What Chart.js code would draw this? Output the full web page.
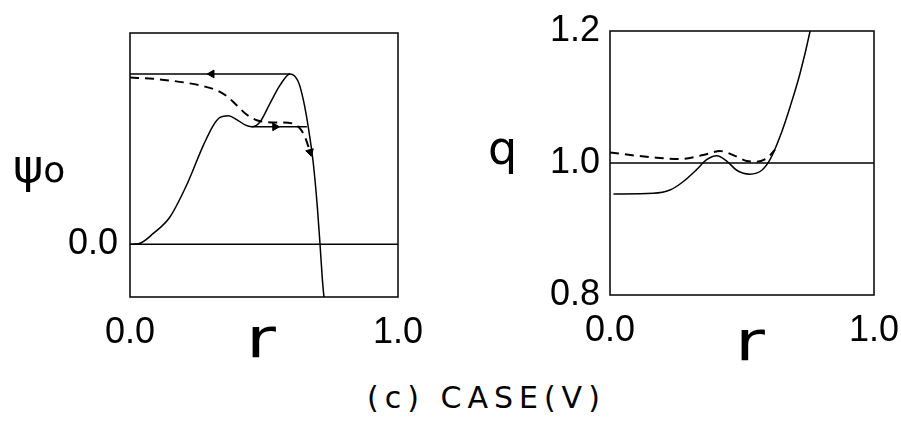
<!DOCTYPE html>
<html>
<head>
<meta charset="utf-8">
<script src="https://cdn.jsdelivr.net/npm/chart.js@4.4.1/dist/chart.umd.min.js"></script>
<style>
    html, body { margin: 0; padding: 0; background: #fff; }
    #wrap { position: relative; width: 901px; height: 421px; overflow: hidden; background: #fff; font-family: "DejaVu Sans", sans-serif; color: #000; }
    canvas { position: absolute; top: 0; }
    .lbl { position: absolute; line-height: 1; white-space: nowrap; }
</style>
</head>
<body>
<div id="wrap">
    <canvas id="psiChart" width="460" height="360" style="left:0"></canvas>
    <canvas id="qChart" width="441" height="360" style="left:460px"></canvas>

    <div class="lbl" style="left:13px; top:143px; font-size:46px;">ψ<span style="font-size:36px;">o</span></div>
    <div class="lbl" style="left:246px; top:310px; font-size:56px; transform-origin:0 0; transform:scaleX(1.3);">r</div>
    <div class="lbl" style="left:488px; top:125px; font-size:46px;">q</div>
    <div class="lbl" style="left:735px; top:313px; font-size:56px; transform-origin:0 0; transform:scaleX(1.3);">r</div>
    <div class="lbl" style="left:367px; top:383px; font-size:30px; letter-spacing:6px;">(c) CASE(V)</div>
</div>

<script>
// ---- psi_0 panel ----
const psiTicksX = [0, 1];
const psiTicksY = [0];

// solid profile
const psiCurveR = [0, 0.031, 0.087, 0.149, 0.211, 0.274, 0.311, 0.336, 0.367, 0.398, 0.429, 0.454, 0.485, 0.522, 0.560, 0.597, 0.628, 0.647, 0.665, 0.684, 0.699, 0.709, 0.718, 0.726];
const psiCurveV = [0, 0.002, 0.051, 0.129, 0.279, 0.469, 0.563, 0.600, 0.608, 0.590, 0.565, 0.556, 0.579, 0.666, 0.753, 0.806, 0.769, 0.682, 0.556, 0.382, 0.177, 0, -0.170, -0.28];

// dashed profile
const psiDashR = [0, 0.087, 0.149, 0.211, 0.274, 0.323, 0.361, 0.398, 0.435, 0.473, 0.510, 0.560, 0.609, 0.634, 0.653, 0.672];
const psiDashV = [0.789, 0.783, 0.775, 0.764, 0.748, 0.729, 0.701, 0.658, 0.614, 0.587, 0.578, 0.576, 0.571, 0.548, 0.508, 0.437];

// flat branches
const psiUpperR = [0, 0.597];
const psiUpperV = [0.806, 0.806];
const psiLowerR = [0.454, 0.66];
const psiLowerV = [0.556, 0.556];
const psiZeroR = [0, 1];
const psiZeroV = [0, 0];

// arrow heads
const psiArrowR = [0.305, 0.541, 0.672];
const psiArrowV = [0.806, 0.556, 0.437];

// ---- q panel ----
const qTicksX = [0, 1];
const qTicksY = [0.8, 1.0, 1.2];

const qCurveR = [0.013, 0.164, 0.227, 0.278, 0.328, 0.366, 0.404, 0.442, 0.480, 0.530, 0.575, 0.606, 0.644, 0.682, 0.720, 0.758, 0.770];
const qCurveV = [0.953, 0.954, 0.959, 0.972, 0.990, 1.005, 1.011, 1.003, 0.989, 0.983, 0.989, 1.005, 1.040, 1.085, 1.136, 1.200, 1.225];

const qDashR = [0, 0.101, 0.177, 0.265, 0.353, 0.417, 0.467, 0.518, 0.556, 0.593, 0.625];
const qDashV = [1.016, 1.011, 1.008, 1.006, 1.012, 1.018, 1.012, 1.003, 1.002, 1.007, 1.020];

const qUnitR = [0, 1];
const qUnitV = [1, 1];


const zip = (xs, ys) => xs.map((x, i) => ({ x: x, y: ys[i] }));

// box around the plot area
const framePlugin = {
    id: 'frame',
    afterDraw(chart) {
        const { ctx, chartArea: a } = chart;
        ctx.save();
        ctx.strokeStyle = '#000';
        ctx.lineWidth = 1.5;
        ctx.strokeRect(a.left, a.top, a.right - a.left, a.bottom - a.top);
        ctx.restore();
    }
};

function line(data, opts) {
    return Object.assign({
        data: data,
        showLine: true,
        borderColor: '#000',
        borderWidth: 1.5,
        pointRadius: 0,
        cubicInterpolationMode: 'monotone',
        fill: false
    }, opts || {});
}

function axis(min, max, ticks, width, height, pad) {
    return {
        type: 'linear',
        min: min,
        max: max,
        afterBuildTicks: (s) => { s.ticks = ticks.map(v => ({ value: v })); },
        afterFit: (s) => {
            // plot box is fixed by layout padding, not by label overhang
            s.paddingLeft = s.paddingRight = s.paddingTop = s.paddingBottom = 0;
            if (width !== null) s.width = width;
            if (height !== null) s.height = height;
        },
        grid: { display: false, drawTicks: false },
        border: { display: false },
        ticks: {
            color: '#000',
            padding: pad,
            maxRotation: 0,
            autoSkip: false,
            font: { family: 'Liberation Sans', size: 36 },
            callback: (v) => Number(v).toFixed(1)
        }
    };
}

function makeChart(id, datasets, scales, padding) {
    return new Chart(document.getElementById(id), {
        type: 'scatter',
        data: { datasets: datasets },
        options: {
            responsive: false,
            animation: false,
            devicePixelRatio: 1,
            layout: { padding: padding },
            plugins: { legend: { display: false }, tooltip: { enabled: false } },
            scales: scales
        },
        plugins: [framePlugin]
    });
}

makeChart('psiChart', [
    line(zip(psiZeroR, psiZeroV), { cubicInterpolationMode: 'default' }),
    line(zip(psiUpperR, psiUpperV), { cubicInterpolationMode: 'default' }),
    line(zip(psiLowerR, psiLowerV), { cubicInterpolationMode: 'default' }),
    line(zip(psiCurveR, psiCurveV)),
    line(zip(psiDashR, psiDashV), { borderWidth: 2, borderDash: [9, 6] }),
    {
        data: zip(psiArrowR, psiArrowV),
        showLine: false,
        pointStyle: 'triangle',
        pointRadius: 4.5,
        rotation: [-90, 90, 165],
        backgroundColor: '#000',
        borderColor: '#000',
        borderWidth: 1
    }
], {
    x: axis(0, 1, psiTicksX, null, 63, 14),
    y: axis(-0.25, 1.0, psiTicksY, 130, null, 12)
}, { top: 33, right: 62, left: 0, bottom: 0 });

makeChart('qChart', [
    line(zip(qUnitR, qUnitV), { cubicInterpolationMode: 'default' }),
    line(zip(qCurveR, qCurveV)),
    line(zip(qDashR, qDashV), { borderWidth: 2, borderDash: [9, 6] })
], {
    x: axis(0, 1, qTicksX, null, 65, 14),
    y: axis(0.8, 1.2, qTicksY, 150, null, 10)
}, { top: 31, right: 27, left: 0, bottom: 0 });
</script>
</body>
</html>
